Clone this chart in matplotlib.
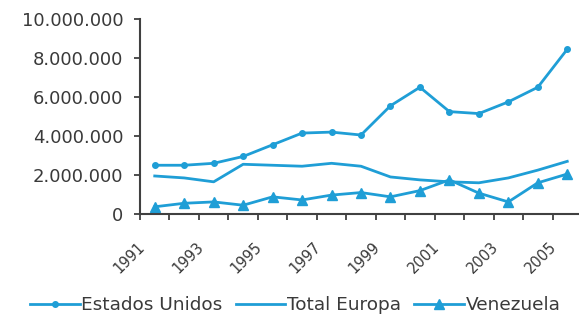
import matplotlib
matplotlib.use("Agg")
import matplotlib.pyplot as plt
import matplotlib.transforms as mtransforms
import numpy as np
from matplotlib.ticker import FuncFormatter, FixedLocator

plt.rcParams['font.family'] = ['DejaVu Sans']

years = list(range(1991, 2006))
estados_unidos = [2500000, 2500000, 2600000, 2950000, 3550000, 4150000, 4200000, 4050000,
                  5550000, 6500000, 5250000, 5150000, 5750000, 6500000, 8450000]
total_europa = [1950000, 1850000, 1650000, 2550000, 2500000, 2450000, 2600000, 2450000,
                1900000, 1750000, 1650000, 1600000, 1850000, 2250000, 2700000]
venezuela = [370000, 550000, 620000, 450000, 880000, 720000, 970000, 1100000,
             880000, 1200000, 1750000, 1070000, 620000, 1600000, 2050000]
year_labels = [str(y) if y % 2 == 1 else "" for y in years]

color = "#1f9ed6"
text_color = "#3a3a3a"
axis_color = "#404040"

fig = plt.figure(figsize=(5.79, 3.29), dpi=100)
ax = fig.add_axes([140 / 579, (329 - 214) / 329, (582 - 140) / 579, (214 - 19) / 329])

x = np.arange(len(years))
ax.plot(x, estados_unidos, color=color, lw=2.0, marker="o", ms=4, label="Estados Unidos")
ax.plot(x, total_europa, color=color, lw=2.0, label="Total Europa")
ax.plot(x, venezuela, color=color, lw=2.0, marker="^", ms=7, label="Venezuela")

ax.set_xlim(-0.5, 14.5)
ax.set_ylim(0, 10000000)
ax.set_yticks(np.arange(0, 10000001, 2000000))
ax.yaxis.set_major_formatter(FuncFormatter(lambda v, p: f"{int(v):,}".replace(",", ".")))

ax.set_xticks(x)
ax.set_xticklabels(year_labels, rotation=45, ha="right", va="top", rotation_mode="anchor")
ax.xaxis.set_minor_locator(FixedLocator(np.arange(-0.5, 15, 1)))
ax.tick_params(axis="x", which="major", length=0, pad=18, labelsize=10.5, labelcolor=text_color)
ax.tick_params(axis="x", which="minor", length=4, width=1.3, color=axis_color, direction="out")
ax.tick_params(axis="y", length=4, width=1.3, color=axis_color, labelsize=13,
               labelcolor=text_color, pad=8)

# Excel puts the end of each rotated year label a bit left of its category
shift = mtransforms.ScaledTranslation(-18 / 100, 0, fig.dpi_scale_trans)
for tick in ax.xaxis.get_major_ticks():
    tick.label1.set_transform(tick.label1.get_transform() + shift)

for s in ["top", "right"]:
    ax.spines[s].set_visible(False)
for s in ["left", "bottom"]:
    ax.spines[s].set_color(axis_color)
    ax.spines[s].set_linewidth(1.5)

fig.legend(loc="center", bbox_to_anchor=(0.51, 1 - 305 / 329), ncol=3, frameon=False,
           fontsize=13.3, handlelength=2.7, columnspacing=0.7, handletextpad=0.1,
           labelcolor=text_color)

fig.savefig("out.png", dpi=100)
